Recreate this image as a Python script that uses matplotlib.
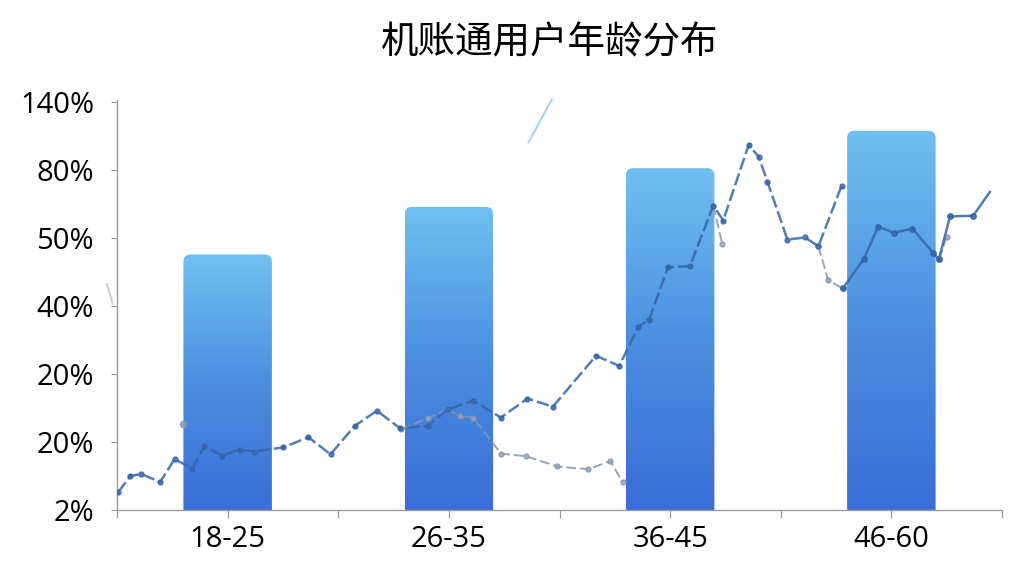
import matplotlib
matplotlib.use("Agg")
import matplotlib.pyplot as plt
import numpy as np
from matplotlib.patches import FancyBboxPatch
from matplotlib.colors import LinearSegmentedColormap

plt.rcParams['font.family'] = ['Open Sans', 'Noto Sans CJK SC', 'DejaVu Sans']

# ---------------- data ----------------
title = "机账通用户年龄分布"
categories = ["18-25", "26-35", "36-45", "46-60"]
cat_pos = [1, 3, 5, 7]
bar_values = [3.76, 4.46, 5.03, 5.58]            # in y-tick index units
ytick_labels = ["2%", "20%", "20%", "40%", "50%", "80%", "140%"]

main_a_x = [0.01, 0.12, 0.22, 0.39, 0.52, 0.68, 0.79, 0.95, 1.11, 1.24, 1.50, 1.73, 1.93, 2.15, 2.35,
            2.56, 2.81, 2.99, 3.22, 3.47, 3.71, 3.94, 4.33, 4.54, 4.71, 4.81, 4.98, 5.18, 5.39, 5.48,
            5.71, 5.80, 5.88, 6.06, 6.22, 6.34, 6.55]
main_a_y = [0.26, 0.50, 0.53, 0.41, 0.75, 0.61, 0.94, 0.80, 0.89, 0.86, 0.92, 1.07, 0.82, 1.24, 1.46,
            1.20, 1.24, 1.48, 1.61, 1.36, 1.64, 1.52, 2.27, 2.12, 2.69, 2.80, 3.57, 3.59, 4.48, 4.26,
            5.37, 5.20, 4.83, 3.98, 4.01, 3.88, 4.77]
main_b_x = [6.56, 6.75, 6.88, 7.02, 7.19, 7.38, 7.43, 7.53, 7.74, 7.89]
main_b_y = [3.26, 3.69, 4.17, 4.08, 4.14, 3.78, 3.69, 4.32, 4.33, 4.68]

gray1_x = [2.57, 2.81, 2.99, 3.10, 3.22, 3.47, 3.70, 3.98, 4.26, 4.46, 4.57]
gray1_y = [1.19, 1.35, 1.48, 1.38, 1.36, 0.83, 0.79, 0.64, 0.60, 0.72, 0.41]
gray2_x = [5.39, 5.47]
gray2_y = [4.48, 3.92]
gray3_x = [6.34, 6.43, 6.56]
gray3_y = [3.88, 3.38, 3.26]
gray4_x = [7.43, 7.50]
gray4_y = [3.69, 4.02]
gray_dot_x = [0.60]
gray_dot_y = [1.27]

stray_blue_x = [3.72, 3.93]
stray_blue_y = [5.41, 6.04]
stray_gray_x = [-0.09, -0.04]
stray_gray_y = [3.32, 3.04]

# ---------------- figure ----------------
fig = plt.figure(figsize=(10.24, 5.76), dpi=100)
ax = fig.add_axes([0.1143, 0.1146, 0.8642, 0.7114])
ax.set_xlim(0, 8)
ax.set_ylim(0, 6.03)

bar_w = 0.8
bars = ax.bar(cat_pos, bar_values, width=bar_w, color='none', edgecolor='none')

cmap = LinearSegmentedColormap.from_list('g', ['#3a6dd8', '#4b8fe0', '#6fc0f1'])
grad = np.linspace(0, 1, 256).reshape(-1, 1)
r_x = 0.065
x_px = 110.6
y_px = 68.33
for rect in bars:
    x0 = rect.get_x()
    w = rect.get_width()
    h = rect.get_height()
    patch = FancyBboxPatch((x0, -0.5), w, h + 0.5,
                           boxstyle=f"round,pad=0,rounding_size={r_x}",
                           mutation_aspect=x_px / y_px,
                           facecolor='none', edgecolor='none', transform=ax.transData)
    ax.add_patch(patch)
    im = ax.imshow(grad, extent=[x0, x0 + w, 0, h], origin='lower', cmap=cmap,
                   aspect='auto', zorder=2, interpolation='bicubic')
    im.set_clip_path(patch)

ax.set_xlim(0, 8)
ax.set_ylim(0, 6.03)

main_col = '#3566a8'
gray_col = '#8795ab'
ax.plot(main_a_x, main_a_y, color=main_col, lw=1.8, ls=(0, (5, 1.6)), marker='o', ms=3.5,
        alpha=0.85, zorder=4)
ax.plot(main_b_x[:-1], main_b_y[:-1], color=main_col, lw=1.8, ls='-', marker='o', ms=4,
        alpha=0.85, zorder=4)
ax.plot(main_b_x[-2:], main_b_y[-2:], color=main_col, lw=1.8, ls='-', alpha=0.85, zorder=4)
for gx, gy in [(gray1_x, gray1_y), (gray2_x, gray2_y), (gray3_x, gray3_y), (gray4_x, gray4_y)]:
    ax.plot(gx, gy, color=gray_col, lw=1.4, ls=(0, (5, 2)), marker='o', ms=3.5,
            mfc='#9aa7b8', mec=gray_col, alpha=0.85, zorder=3.5)
ax.plot(gray_dot_x, gray_dot_y, 'o', color=gray_col, ms=4.5, alpha=0.8, zorder=3.5)
ax.plot(stray_blue_x, stray_blue_y, color='#a8d3f0', lw=1.5, clip_on=False, zorder=3)
ax.plot(stray_gray_x, stray_gray_y, color='#d0d0d0', lw=1.5, clip_on=False, zorder=3)

# axes styling
for s in ['top', 'right']:
    ax.spines[s].set_visible(False)
for s in ['left', 'bottom']:
    ax.spines[s].set_color('#9a9a9a')
    ax.spines[s].set_linewidth(1.0)

ax.set_yticks(range(len(ytick_labels)))
ax.set_yticklabels(ytick_labels, fontsize=21, color='#000000')
xt = list(range(9))
xl = [''] * 9
for p, c in zip(cat_pos, categories):
    xl[p] = c
ax.set_xticks(xt)
ax.set_xticklabels(xl, fontsize=21, color='#000000')
ax.tick_params(axis='y', length=4, color='#9a9a9a', pad=12.5)
ax.tick_params(axis='x', length=6, color='#9a9a9a', pad=5)

fig.text(0.537, 0.925, title, ha='center', va='center', fontsize=27,
         family=['Noto Sans CJK SC', 'DejaVu Sans'], color='#000000')

fig.savefig('out.png', dpi=100, facecolor='white')
